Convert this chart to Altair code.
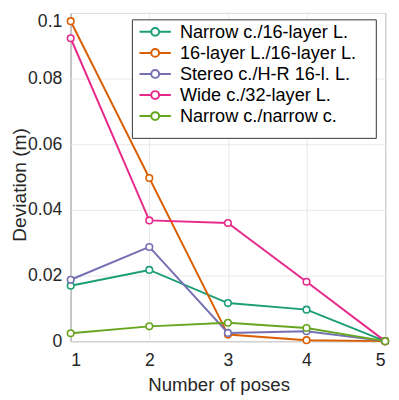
import altair as alt
import pandas as pd

poses = [1, 2, 3, 4, 5]
series_names = [
    "Narrow c./16-layer L.",
    "16-layer L./16-layer L.",
    "Stereo c./H-R 16-l. L.",
    "Wide c./32-layer L.",
    "Narrow c./narrow c.",
]
narrow_16 = [0.0169, 0.0217, 0.0116, 0.0096, 0.0]
l16_16 = [0.0975, 0.0497, 0.0020, 0.0003, 0.0]
stereo_hr = [0.0187, 0.0287, 0.0025, 0.0030, 0.0]
wide_32 = [0.0923, 0.0368, 0.0360, 0.0181, 0.0]
narrow_narrow = [0.0024, 0.0045, 0.0056, 0.0040, 0.0]
colors = ["#1b9e77", "#d95f02", "#7570b3", "#e7298a", "#66a61e"]

rows = []
for i, (name, vals) in enumerate(zip(series_names, [narrow_16, l16_16, stereo_hr, wide_32, narrow_narrow])):
    for p, v in zip(poses, vals):
        rows.append({"poses": p, "dev": v, "series": name, "order": i})
df = pd.DataFrame(rows)

FONT = "Liberation Sans"
# legend glyph: line with an open circle in the middle (unit = sqrt(size)/2 px)
sym = "M-4,0H-1M1,0H4M1,0A1,1 0 1,1 -1,0A1,1 0 1,1 1,0"

lines = alt.Chart(df).mark_line(
    strokeWidth=2,
    point=alt.OverlayMarkDef(filled=False, fill="white", size=45, strokeWidth=1.6),
).encode(
    x=alt.X("poses:Q", scale=alt.Scale(domain=[1, 5], nice=False),
            axis=alt.Axis(values=poses, title="Number of poses", format="d")),
    y=alt.Y("dev:Q", scale=alt.Scale(domain=[0, 0.1], nice=False),
            axis=alt.Axis(values=[0, 0.02, 0.04, 0.06, 0.08, 0.1], format="~g",
                          title="Deviation (m)",
                          labelBaseline={"condition": {"test": "datum.value >= 0.1", "value": "top"},
                                         "value": "middle"})),
    color=alt.Color("series:N", scale=alt.Scale(domain=series_names, range=colors),
                    legend=alt.Legend(
                        orient="none", legendX=72, legendY=5, title=None,
                        symbolType=sym, symbolSize=64, symbolStrokeWidth=2,
                        symbolFillColor="white",
                        labelFont=FONT, labelFontSize=18.5, labelColor="#000",
                        strokeColor="transparent", fillColor="transparent", padding=5,
                        rowPadding=2.5, labelOffset=16, labelLimit=400,
                    )),
    order="order:Q",
)

legend_box = alt.Chart(pd.DataFrame({"a": [0]})).mark_rect(
    fill="white", stroke="#333333", strokeWidth=1,
    x=63, x2=312, y=7, y2=128,
).encode(
    opacity=alt.value(1)
)

chart = alt.layer(lines, legend_box).properties(
    width=321, height=335,
    autosize="none",
    padding={"left": 64, "top": 1, "right": 6, "bottom": 56},
).configure_axis(
    labelFont=FONT, labelFontSize=18, labelColor="#262626",
    titleFont=FONT, titleColor="#262626", titleFontWeight="normal",
    grid=True, gridColor="#e8e8e8", gridWidth=1,
    domain=False, ticks=False, labelPadding=9,
).configure_axisX(
    labelPadding=10.5, titleFontSize=19, titleX=151, titleY=50.5,
    titleAlign="center", titleBaseline="alphabetic",
).configure_axisY(
    titleFontSize=19.5, titleX=-46.5, titleY=175, titleAlign="center",
    titleBaseline="alphabetic",
).configure_view(
    stroke="#333333", strokeWidth=1
)

chart.save("out.html", embed_options={"renderer": "svg", "actions": False})
